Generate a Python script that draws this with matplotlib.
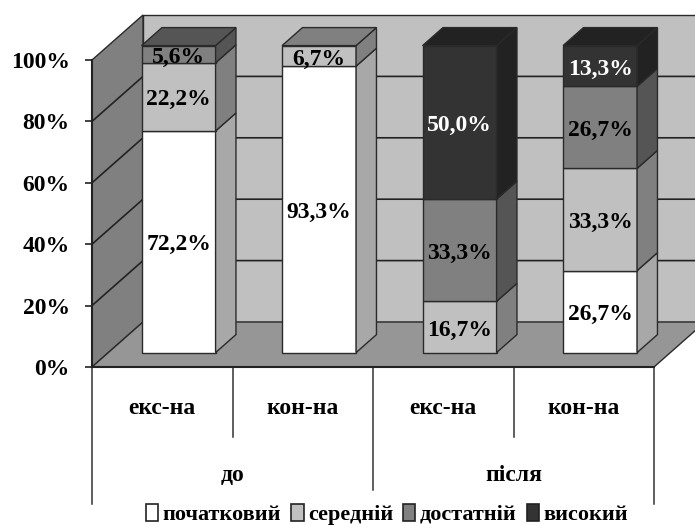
import numpy as np
import matplotlib
matplotlib.use("Agg")
import matplotlib.pyplot as plt
from matplotlib.patches import Patch

plt.rcParams['font.family'] = ['Liberation Serif', 'DejaVu Serif']
plt.rcParams['font.weight'] = 'bold'

# data
groups = ["до", "після"]
categories = ["екс-на", "кон-на", "екс-на", "кон-на"]
levels = ["початковий", "середній", "достатній", "високий"]
pochatkovyi = [72.2, 93.3, 0, 26.7]
serednii = [22.2, 6.7, 16.7, 33.3]
dostatnii = [5.6, 0, 33.3, 26.7]
vysokyi = [0, 0, 50.0, 13.3]
series = [pochatkovyi, serednii, dostatnii, vysokyi]

# front / side colours per series
front_col = ["#ffffff", "#c0c0c0", "#808080", "#333333"]
side_col = ["#a8a8a8", "#808080", "#555555", "#222222"]
text_col = ["black", "black", "black", "white"]

# fake 3d: how far one unit of depth shifts a point, in axis units
dx = 51 / 140.5
dy = 45 / 3.07
bar_w = 74 / 140.5
d_front = 0.32
d_back = 0.72


def pr(x, y, d):
    return x + d * dx, y + d * dy


def face(ax, pts, col, z=2, lw=1.0):
    xs = [pr(*p)[0] for p in pts]
    ys = [pr(*p)[1] for p in pts]
    ax.fill(xs, ys, facecolor=col, edgecolor="#2a2a2a", lw=lw, clip_on=False, zorder=z)


fig = plt.figure(figsize=(6.95, 5.25), dpi=100)
ax = fig.add_axes([92 / 695, (525 - 367) / 525, 562 / 695, 307 / 525])
ax.set_xlim(0, 4)
ax.set_ylim(0, 100)
ax.patch.set_visible(False)

# walls and floor
face(ax, [(0, 0, 1), (5, 0, 1), (5, 100, 1), (0, 100, 1)], "#c0c0c0", 1)
face(ax, [(0, 0, 0), (0, 0, 1), (0, 100, 1), (0, 100, 0)], "#808080", 1)
face(ax, [(0, 0, 0), (4, 0, 0), (4, 0, 1), (0, 0, 1)], "#969696", 1)

for t in [20, 40, 60, 80]:
    xs, ys = zip(pr(0, t, 0), pr(0, t, 1), pr(5, t, 1))
    ax.plot(xs, ys, color="#222222", lw=1.2, clip_on=False, zorder=1.5)

# bars
for i in range(4):
    x0 = i + 0.5 - bar_w / 2
    x1 = x0 + bar_w
    bottom = 0
    top_idx = 0
    for s, vals in enumerate(series):
        v = vals[i]
        if v == 0:
            continue
        top = bottom + v
        face(ax, [(x0, bottom, d_front), (x1, bottom, d_front), (x1, top, d_front), (x0, top, d_front)], front_col[s], 3)
        face(ax, [(x1, bottom, d_front), (x1, bottom, d_back), (x1, top, d_back), (x1, top, d_front)], side_col[s], 3)
        tx, ty = pr(i + 0.5, bottom + v / 2, d_front)
        ax.text(tx, ty - 1, f"{v:.1f}%".replace(".", ","), ha="center", va="center",
                fontsize=17, color=text_col[s], zorder=5)
        bottom = top
        top_idx = s
    face(ax, [(x0, 100, d_front), (x1, 100, d_front), (x1, 100, d_back), (x0, 100, d_back)], side_col[top_idx], 3)

# axes
ax.set_yticks([0, 20, 40, 60, 80, 100])
ax.set_yticklabels(["0%", "20%", "40%", "60%", "80%", "100%"], fontsize=17)
ax.tick_params(axis="y", length=5, width=1.2, pad=11, color="#222222")
ax.set_xticks([])
for sp in ["top", "right"]:
    ax.spines[sp].set_visible(False)
for sp in ["left", "bottom"]:
    ax.spines[sp].set_linewidth(1.5)
    ax.spines[sp].set_color("#222222")
    ax.spines[sp].set_zorder(6)

# two level category axis under the plot
seps = [0, 1, 2, 3, 4]
sep_ends = [-44.6, -22.8, -40.0, -22.8, -44.6]
for x, e in zip(seps, sep_ends):
    ax.plot([x, x], [0, e], color="#333333", lw=1.1, clip_on=False)
for i, c in enumerate(categories):
    ax.text(i + 0.5, -13.5, c, ha="center", va="center", fontsize=17)
for i, g in enumerate(groups):
    ax.text(i * 2 + 1, -35.5, g, ha="center", va="center", fontsize=17)

handles = [Patch(facecolor=front_col[i], edgecolor="#222222", lw=1.2, label=levels[i]) for i in range(4)]
ax.legend(handles=handles, ncol=4, frameon=False, loc="center", bbox_to_anchor=(0.525, -0.48),
          fontsize=16, handlelength=0.55, handleheight=0.8, handletextpad=0.2, columnspacing=0.45,
          borderpad=0, borderaxespad=0)

fig.savefig("out.png", dpi=100)
